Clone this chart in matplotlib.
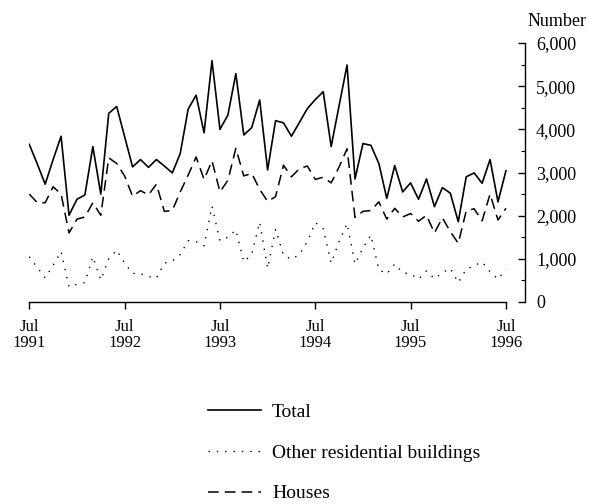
import numpy as np
import matplotlib
matplotlib.use('Agg')
import matplotlib.pyplot as plt
from matplotlib.ticker import FuncFormatter, MultipleLocator

# monthly values Jul 1991 - Jul 1996
total = [3650, 3200, 2730, 3300, 3840, 2010, 2380, 2480, 3600, 2500,
         4370, 4530, 3830, 3130, 3300, 3120, 3300, 3150, 2990, 3440,
         4470, 4790, 3920, 5590, 4000, 4330, 5290, 3870, 4040, 4680,
         3060, 4200, 4150, 3840, 4160, 4480, 4690, 4870, 3600, 4550,
         5490, 2850, 3670, 3630, 3210, 2400, 3160, 2550, 2760, 2380,
         2850, 2210, 2650, 2520, 1860, 2900, 2990, 2750, 3300, 2320,
         3040]
other = [1050, 800, 560, 850, 1170, 350, 410, 450, 1050, 510,
         1000, 1200, 900, 660, 660, 590, 550, 900, 950, 1100,
         1420, 1400, 1300, 2220, 1420, 1500, 1670, 930, 1100, 1850,
         780, 1680, 1080, 990, 1100, 1400, 1840, 1700, 900, 1400,
         1820, 880, 1250, 1550, 750, 650, 880, 680, 650, 530,
         720, 540, 680, 780, 450, 760, 840, 930, 700, 530,
         760]
houses = [2500, 2300, 2300, 2670, 2500, 1600, 1920, 1970, 2300, 2010,
          3340, 3210, 2920, 2450, 2580, 2480, 2730, 2100, 2120, 2550,
          2940, 3360, 2840, 3270, 2550, 2820, 3560, 2920, 2980, 2610,
          2330, 2440, 3170, 2900, 3090, 3150, 2840, 2890, 2760, 3130,
          3550, 1960, 2100, 2120, 2320, 1920, 2170, 1970, 2050, 1870,
          2010, 1600, 1950, 1630, 1360, 2110, 2160, 1880, 2500, 1900,
          2170]
tick_labels = ['Jul\n1991', 'Jul\n1992', 'Jul\n1993', 'Jul\n1994', 'Jul\n1995', 'Jul\n1996']

plt.rcParams['font.family'] = ['Liberation Serif', 'DejaVu Serif']

x = np.arange(len(total))

fig = plt.figure(figsize=(5.89, 5.04), dpi=100)
ax = fig.add_axes([29.3 / 589, 202 / 504, 495.7 / 589, 259 / 504])

l_total, = ax.plot(x, total, color='black', lw=1.2, label='Total')
l_other, = ax.plot(x, other, color='black', lw=1.0, linestyle=(0, (1, 5)),
                   label='Other residential buildings')
l_houses, = ax.plot(x, houses, color='black', lw=1.1, linestyle=(0, (7, 4)), label='Houses')

ax.set_xlim(0, 62.4)
ax.set_ylim(0, 6000)

# osie
for s in ['left', 'top']:
    ax.spines[s].set_visible(False)
ax.spines['bottom'].set_bounds(0, 60)
ax.spines['bottom'].set_linewidth(1.0)
ax.spines['right'].set_linewidth(1.0)

ax.set_xticks(np.arange(0, 61, 12))
ax.set_xticklabels(tick_labels, fontsize=12, linespacing=1.0)
ax.tick_params(axis='x', direction='out', length=5, width=1.0, pad=7)

ax.yaxis.tick_right()
ax.yaxis.set_major_locator(MultipleLocator(1000))
ax.yaxis.set_minor_locator(MultipleLocator(500))
ax.yaxis.set_major_formatter(FuncFormatter(lambda v, p: f'{int(v):,}'))
ax.tick_params(axis='y', which='major', direction='in', length=5, width=1.0, pad=8, labelsize=13)
ax.tick_params(axis='y', which='minor', direction='in', length=3, width=0.8)

fig.text(557 / 589, 1 - 22 / 504, 'Number', ha='center', va='center', fontsize=13)

# legenda pod wykresem
fig.legend(handles=[l_total, l_other, l_houses], loc='upper left',
           bbox_to_anchor=(208 / 589, 1 - 403 / 504), frameon=False,
           borderpad=0, borderaxespad=0,
           fontsize=14, handlelength=2.7, handletextpad=0.6, labelspacing=1.2)

fig.savefig('out.png', dpi=100)
